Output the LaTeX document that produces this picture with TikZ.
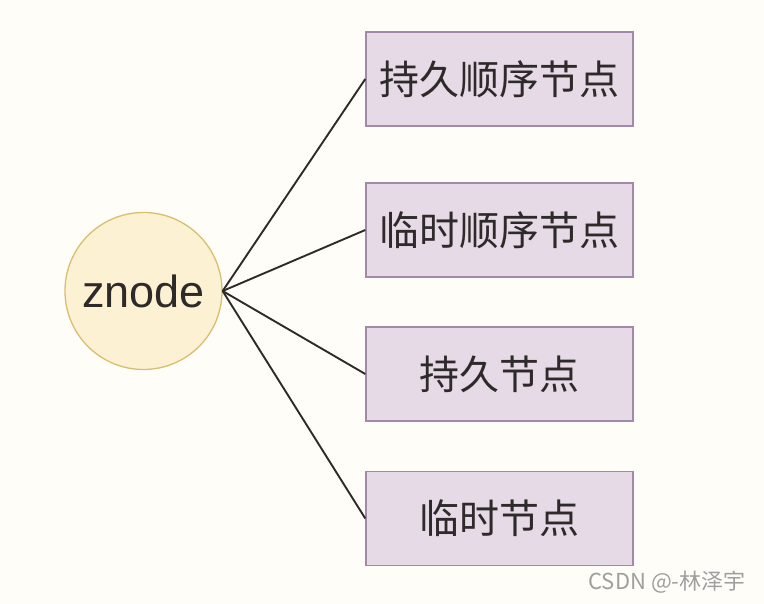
\documentclass[tikz,border=0pt]{standalone}
\usepackage{fontspec}
\setmainfont{Liberation Sans}
\newfontfamily\cjk{Noto Sans CJK SC}
\definecolor{bgcream}{HTML}{FFFDF8}
\definecolor{circfill}{HTML}{FDF1D3}
\definecolor{circline}{HTML}{D9BE6E}
\definecolor{boxfill}{HTML}{E5DAE5}
\definecolor{boxline}{HTML}{A488AC}
\definecolor{txt}{HTML}{2E2A2A}
\begin{document}
\begin{tikzpicture}[x=1pt, y=-1pt,
  znode/.style={circle, draw=circline, fill=circfill, line width=1.3pt, minimum size=157pt, inner sep=0pt, text=txt, font=\fontsize{45}{45}\selectfont},
  kind/.style={rectangle, draw=boxline, fill=boxfill, line width=1.4pt, minimum width=267pt, minimum height=94pt, inner sep=0pt, text=txt, font=\cjk\fontsize{40}{40}\selectfont},
  link/.style={draw=txt, line width=1.9pt}]
\fill[bgcream] (0,0) rectangle (764,604);
\useasboundingbox (0,0) rectangle (764,604);
\node[znode] (zn) at (143.5,291) {znode};
\node[kind] (k1) at (499.5,79) {持久顺序节点};
\node[kind] (k2) at (499.5,230) {临时顺序节点};
\node[kind] (k3) at (499.5,374) {持久节点};
\node[kind] (k4) at (499.5,518.5) {临时节点};
\foreach \k in {k1,k2,k3,k4}
  \draw[link] (zn.east)--(\k.west);
\node[anchor=east, text=gray!75, font=\cjk\fontsize{22}{22}\selectfont] (mark) at (749,582) {CSDN @-林泽宇};
\end{tikzpicture}
\end{document}
